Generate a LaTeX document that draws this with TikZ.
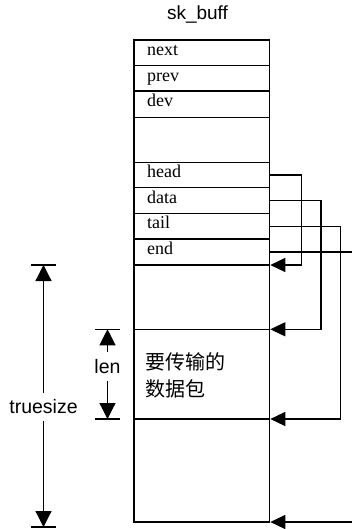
\documentclass[tikz,border=0pt]{standalone}
\usepackage{fontspec}
\setmainfont{Liberation Serif}
\setsansfont{Liberation Sans}
\newfontfamily\cjkfont{Noto Sans CJK SC}
\usetikzlibrary{arrows.meta}

\begin{document}
\begin{tikzpicture}[
  x=1pt, y=-1pt,
  line width=1.25pt,
  cell/.style={draw, minimum width=135.3pt, inner sep=0pt,
               outer sep=0pt, anchor=north west},
  field/.style={anchor=base west, inner sep=0pt, font=\rmfamily\fontsize{18}{20}\selectfont},
  link/.style={-{Triangle[length=15pt,width=14pt]}, shorten >=1pt, line join=miter},
  dim/.style={-{Triangle[length=16pt,width=16pt]}},
  dimlabel/.style={inner xsep=1pt, font=\sffamily\fontsize{19.5}{22}\selectfont},
  payload/.style={anchor=west, inner sep=0pt, font=\cjkfont\fontsize{20}{24}\selectfont}
]
\useasboundingbox (0,0) rectangle (352,529);
\clip (0,0) rectangle (352,529);

% structure title
\node[anchor=base, inner sep=0pt, font=\sffamily\fontsize{19}{22}\selectfont]
  (title) at (197.5,19.5) {sk\_buff};

% header fields
\node[cell, minimum height=25.7pt] (fnext)  at (134,40)    {};
\node[cell, minimum height=25.3pt] (fprev)  at (134,65.7)  {};
\node[cell, minimum height=26.3pt] (fdev)   at (134,91)    {};
\node[cell, minimum height=45pt]   (fblank) at (134,117.3) {};
\node[cell, minimum height=25.4pt] (fhead)  at (134,162.3) {};
\node[cell, minimum height=25.6pt] (fdata)  at (134,187.7) {};
\node[cell, minimum height=25.7pt] (ftail)  at (134,213.3) {};
\node[cell, minimum height=26pt]   (fend)   at (134,239)   {};

% data buffer
\node[cell, minimum height=64.3pt] (sp1)  at (134,265)   {};
\node[cell, minimum height=89.7pt] (fpay) at (134,329.3) {};
\node[cell, minimum height=103pt]  (sp2)  at (134,419)   {};

% field names
\node[field] (lnext) at (146.5,56)    {next};
\node[field] (lprev) at (146.5,81.5)  {prev};
\node[field] (ldev)  at (146.5,107)   {dev};
\node[field] (lhead) at (146.5,177.8) {head};
\node[field] (ldata) at (146.5,203.3) {data};
\node[field] (ltail) at (146.5,228.8) {tail};
\node[field] (lend)  at (146.5,254.5) {end};

% payload text
\node[payload] (pay1) at (144.5,361.5) {要传输的};
\node[payload] (pay2) at (144.5,389)   {数据包};

% pointer routes
\coordinate (hx) at (301.7,0);
\coordinate (dx) at (321,0);
\coordinate (tx) at (340.3,0);
\coordinate (ex) at (364,0);
\draw[link] (fhead.east) -| (hx |- sp1.north east) -- (sp1.north east);
\draw[link] (fdata.east) -| (dx |- fpay.north east) -- (fpay.north east);
\draw[link] (ftail.east) -| (tx |- sp2.north east) -- (sp2.north east);
\draw[link] (fend.east)  -| (ex |- sp2.south east) -- (sp2.south east);

% truesize dimension
\coordinate (tsTop) at (43.5,265);
\coordinate (tsBot) at (43.5,527);
\node[dimlabel, inner ysep=6pt] (tslab) at (43.5,407) {truesize};
\draw[dim] (tslab.north) -- (tsTop);
\draw[dim] (tslab.south) -- (tsBot);
\draw (tsTop) ++(-12.5,0) -- ++(25,0);
\draw (tsBot) ++(-12.5,0) -- ++(25,0);

% len dimension
\coordinate (lnTop) at (107.5,329.3);
\coordinate (lnBot) at (107.5,419);
\node[dimlabel, inner ysep=7pt] (lnlab) at (107.5,366.5) {len};
\draw[dim] (lnlab.north) -- (lnTop);
\draw[dim] (lnlab.south) -- (lnBot);
\draw (lnTop) ++(-12.5,0) -- ++(25,0);
\draw (lnBot) ++(-12.5,0) -- ++(25,0);
\end{tikzpicture}
\end{document}
